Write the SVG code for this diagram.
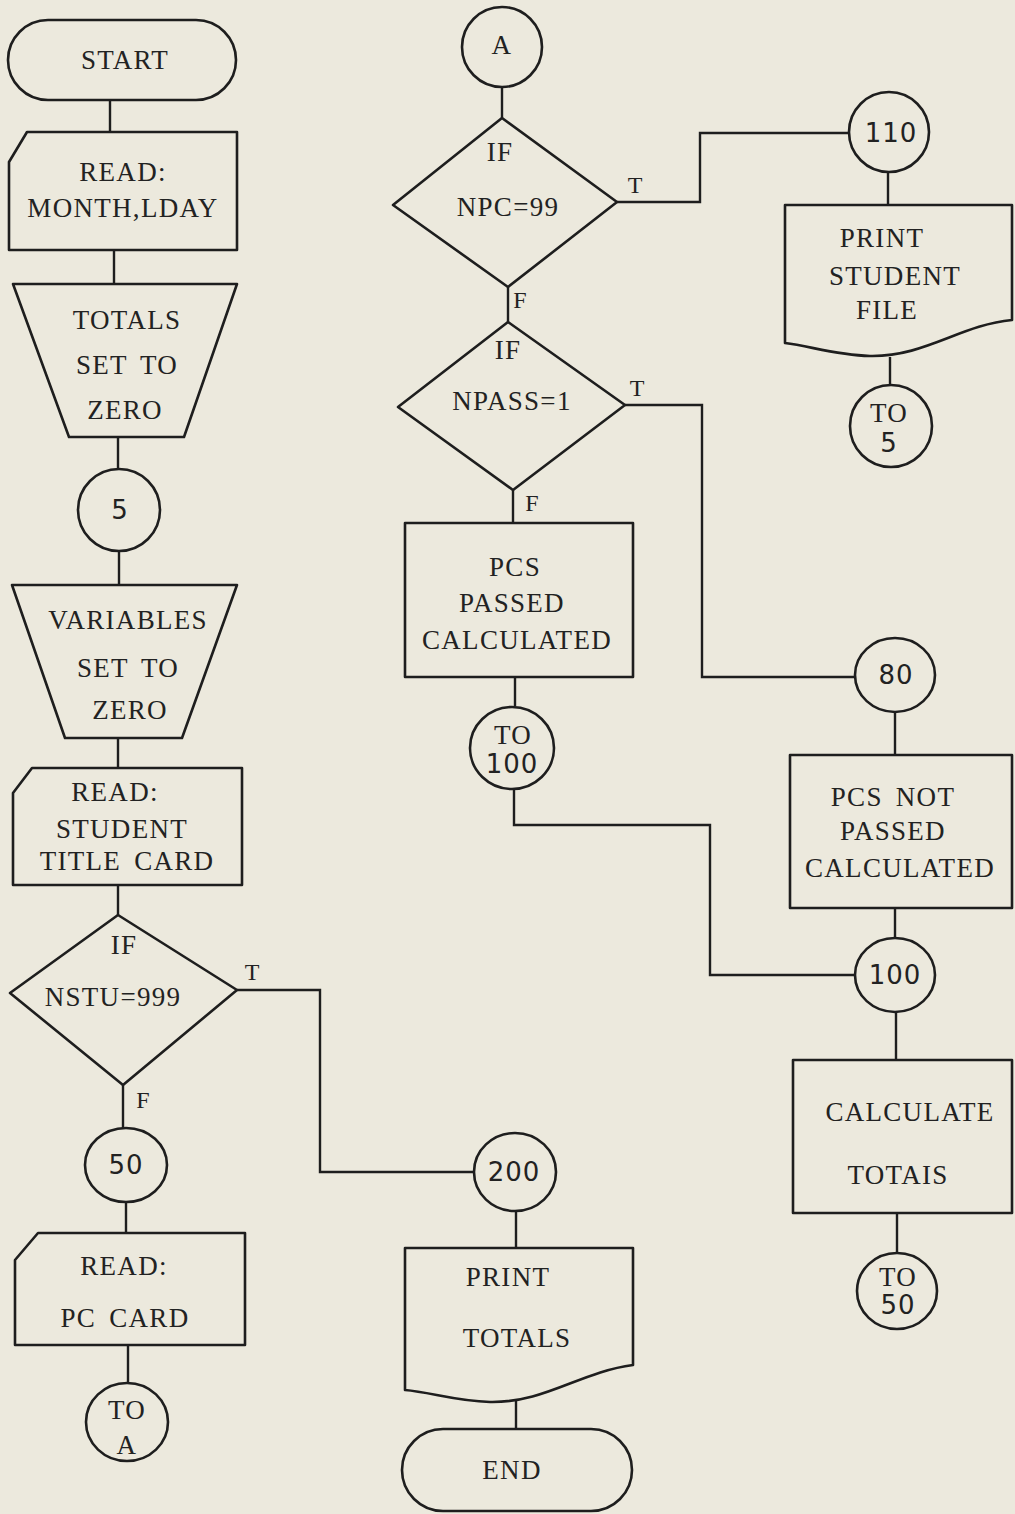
<svg xmlns="http://www.w3.org/2000/svg" width="1015" height="1514" viewBox="0 0 1015 1514">
<style>
.bg{fill:#ece9dd}
.s{fill:#ece9dd;stroke:#1e1e1e;stroke-width:2.6;stroke-linejoin:round}
.c{fill:none;stroke:#1e1e1e;stroke-width:2.4}
.t{font-family:"Liberation Serif",serif;font-size:27px;letter-spacing:1.3px;word-spacing:5px;fill:#222;text-anchor:middle;dominant-baseline:central}
.n{font-family:"DejaVu Sans",sans-serif;font-size:26px;letter-spacing:1px;fill:#222;text-anchor:middle;dominant-baseline:central}
.l{font-family:"Liberation Serif",serif;font-size:24px;fill:#222;text-anchor:middle;dominant-baseline:central}
</style>
<rect class="bg" x="0" y="0" width="1015" height="1514"/>
<g id="connectors">
<path class="c" d="M110 100V132"/>
<path class="c" d="M114 250V284"/>
<path class="c" d="M118 437V469"/>
<path class="c" d="M119 551V585"/>
<path class="c" d="M118 738V768"/>
<path class="c" d="M118 885V915"/>
<path class="c" d="M123 1085V1129"/>
<path class="c" d="M126 1202V1233"/>
<path class="c" d="M128 1345V1383"/>
<path class="c" d="M237 990H320V1172H474"/>
<path class="c" d="M502 87V118"/>
<path class="c" d="M617 202H700V133H848"/>
<path class="c" d="M508 287V322"/>
<path class="c" d="M625 405H702V677H855"/>
<path class="c" d="M513 490V523"/>
<path class="c" d="M515 677V706"/>
<path class="c" d="M514 789V825H710V975H855"/>
<path class="c" d="M516 1211V1248"/>
<path class="c" d="M516 1398V1430"/>
<path class="c" d="M888 172V205"/>
<path class="c" d="M890 357V385"/>
<path class="c" d="M895 712V755"/>
<path class="c" d="M895 908V938"/>
<path class="c" d="M896 1012V1060"/>
<path class="c" d="M897 1213V1253"/>
</g>
<g id="start"><rect class="s" x="8" y="20" width="228" height="80" rx="40"/><text class="t" x="125" y="60">START</text></g>
<g id="read1"><path class="s" d="M9 162L27 132H237V250H9Z"/><text class="t" x="123" y="172">READ:</text><text class="t" x="123" y="208">MONTH,LDAY</text></g>
<g id="totals0"><path class="s" d="M13 284H237L184 437H69Z"/><text class="t" x="127" y="320">TOTALS</text><text class="t" x="127" y="365">SET TO</text><text class="t" x="125" y="410">ZERO</text></g>
<g id="c5"><circle class="s" cx="119" cy="510" r="41"/><text class="n" x="120" y="510">5</text></g>
<g id="vars0"><path class="s" d="M12 585H237L182 738H65Z"/><text class="t" x="128" y="620">VARIABLES</text><text class="t" x="128" y="668">SET TO</text><text class="t" x="130" y="710">ZERO</text></g>
<g id="read2"><path class="s" d="M13 793L32 768H242V885H13Z"/><text class="t" x="115" y="792">READ:</text><text class="t" x="122" y="829">STUDENT</text><text class="t" x="127" y="861">TITLE CARD</text></g>
<g id="ifnstu"><path class="s" d="M118 915L237 990L123 1085L10 993Z"/><text class="t" x="124" y="945">IF</text><text class="t" x="113" y="997">NSTU=999</text><text class="l" x="252" y="972">T</text><text class="l" x="143" y="1100">F</text></g>
<g id="c50"><ellipse class="s" cx="126" cy="1165" rx="41" ry="37"/><text class="n" x="126" y="1165">50</text></g>
<g id="read3"><path class="s" d="M15 1260L38 1233H245V1345H15Z"/><text class="t" x="124" y="1266">READ:</text><text class="t" x="125" y="1318">PC CARD</text></g>
<g id="toA"><ellipse class="s" cx="127" cy="1422" rx="41" ry="39"/><text class="t" x="127" y="1410">TO</text><text class="t" x="127" y="1445">A</text></g>
<g id="cA"><circle class="s" cx="502" cy="47" r="40"/><text class="t" x="502" y="45">A</text></g>
<g id="ifnpc"><path class="s" d="M502 118L617 202L508 287L393 205Z"/><text class="t" x="500" y="152">IF</text><text class="t" x="508" y="207">NPC=99</text><text class="l" x="635" y="185">T</text><text class="l" x="520" y="300">F</text></g>
<g id="ifnpass"><path class="s" d="M508 322L625 405L513 490L398 407Z"/><text class="t" x="508" y="350">IF</text><text class="t" x="512" y="401">NPASS=1</text><text class="l" x="637" y="388">T</text><text class="l" x="532" y="503">F</text></g>
<g id="pcspassed"><rect class="s" x="405" y="523" width="228" height="154"/><text class="t" x="515" y="567">PCS</text><text class="t" x="512" y="603">PASSED</text><text class="t" x="517" y="640">CALCULATED</text></g>
<g id="to100"><ellipse class="s" cx="512" cy="748" rx="42" ry="41"/><text class="t" x="513" y="735">TO</text><text class="n" x="512" y="764">100</text></g>
<g id="c200"><ellipse class="s" cx="515" cy="1172" rx="41" ry="39"/><text class="n" x="514" y="1172">200</text></g>
<g id="printtotals"><path class="s" d="M405 1248H633V1365C580 1372 545 1403 490 1402C455 1401 430 1392 405 1390Z"/><text class="t" x="508" y="1277">PRINT</text><text class="t" x="517" y="1338">TOTALS</text></g>
<g id="end"><rect class="s" x="402" y="1429" width="230" height="82" rx="41"/><text class="t" x="512" y="1470">END</text></g>
<g id="c110"><circle class="s" cx="889" cy="132" r="40"/><text class="n" x="891" y="133">110</text></g>
<g id="printstudent"><path class="s" d="M785 205H1012V320C960 325 925 357 870 356C835 355 810 346 785 343Z"/><text class="t" x="882" y="238">PRINT</text><text class="t" x="895" y="276">STUDENT</text><text class="t" x="887" y="310">FILE</text></g>
<g id="to5"><circle class="s" cx="891" cy="426" r="41"/><text class="t" x="889" y="413">TO</text><text class="n" x="889" y="443">5</text></g>
<g id="c80"><ellipse class="s" cx="895" cy="675" rx="40" ry="37"/><text class="n" x="896" y="675">80</text></g>
<g id="pcsnot"><rect class="s" x="790" y="755" width="222" height="153"/><text class="t" x="893" y="797">PCS NOT</text><text class="t" x="893" y="831">PASSED</text><text class="t" x="900" y="868">CALCULATED</text></g>
<g id="c100"><ellipse class="s" cx="895" cy="975" rx="40" ry="37"/><text class="n" x="895" y="975">100</text></g>
<g id="calctotals"><rect class="s" x="793" y="1060" width="219" height="153"/><text class="t" x="910" y="1112">CALCULATE</text><text class="t" x="898" y="1175">TOTAIS</text></g>
<g id="to50"><ellipse class="s" cx="897" cy="1291" rx="40" ry="38"/><text class="t" x="898" y="1277">TO</text><text class="n" x="898" y="1305">50</text></g>
</svg>
